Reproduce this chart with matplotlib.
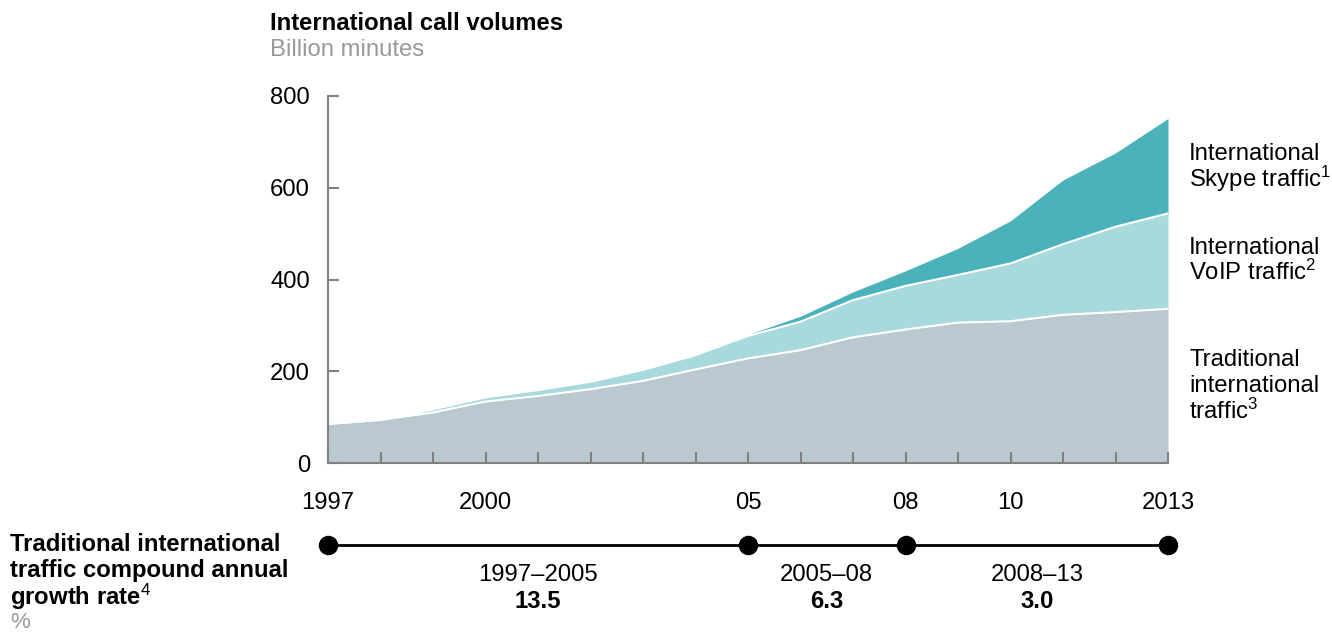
import numpy as np
import matplotlib
matplotlib.use('Agg')
import matplotlib.pyplot as plt
import matplotlib.transforms as mtransforms

plt.rcParams['font.family'] = ['Liberation Sans', 'DejaVu Sans']
plt.rcParams['mathtext.fontset'] = 'custom'
plt.rcParams['mathtext.rm'] = 'Liberation Sans'
plt.rcParams['mathtext.it'] = 'Liberation Sans:italic'
plt.rcParams['mathtext.bf'] = 'Liberation Sans:bold'

# data (billion minutes)
years = np.arange(1997, 2014)
traditional = [85, 94, 110, 134, 146, 161, 179, 204, 228, 246, 274, 291, 306, 309, 323, 329, 336]
voip = [0, 0, 7, 9, 13, 16, 24, 31, 49, 62, 81, 95, 104, 126, 154, 186, 208]
skype = [0, 0, 0, 0, 0, 0, 0, 0, 3, 12, 18, 33, 58, 93, 140, 161, 207]
year_labels = {1997: '1997', 2000: '2000', 2005: '05', 2008: '08', 2010: '10', 2013: '2013'}

cagr_points = [1997, 2005, 2008, 2013]
cagr_periods = ['1997–2005', '2005–08', '2008–13']
cagr_values = ['13.5', '6.3', '3.0']

c_trad = '#BAC8CF'
c_voip = '#A8D9DC'
c_skype = '#4BB2BC'
grey = '#808080'
fs = 17.2

W, H = 1332, 634
fig = plt.figure(figsize=(W / 100, H / 100), dpi=100)
ax = fig.add_axes([328 / W, 1 - 463 / H, 840 / W, 367 / H])

t = np.array(traditional, dtype=float)
v = t + np.array(voip)
s = v + np.array(skype)

ax.fill_between(years, 0, t, color=c_trad, lw=0)
ax.fill_between(years, t, v, color=c_voip, lw=0)
ax.fill_between(years, v, s, color=c_skype, lw=0)
ax.plot(years, t, color='white', lw=1.5)
ax.plot(years, v, color='white', lw=1.5)

ax.set_xlim(1997, 2013)
ax.set_ylim(0, 800)
ax.set_yticks([0, 200, 400, 600, 800])
ax.set_xticks(years)
ax.set_xticklabels([year_labels.get(y, '') for y in years])

for side in ['top', 'right']:
    ax.spines[side].set_visible(False)
for side in ['left', 'bottom']:
    ax.spines[side].set_color(grey)
    ax.spines[side].set_linewidth(1.5)
ax.tick_params(axis='both', direction='in', length=8, width=1.5, color=grey,
               labelsize=fs, labelcolor='black')
ax.tick_params(axis='y', pad=13)
ax.tick_params(axis='x', pad=21)

# title
fig.text(270 / W, 1 - 24 / H, 'International call volumes', fontsize=fs, fontweight='bold',
         ha='left', va='center')
fig.text(270 / W, 1 - 50 / H, 'Billion minutes', fontsize=fs, color='#999999',
         ha='left', va='center')

# right-side labels
right_labels = [
    (['International', r'Skype traffic$^{\mathrm{1}}$'], [151, 175]),
    (['International', r'VoIP traffic$^{\mathrm{2}}$'], [246, 270]),
    (['Traditional', 'international', r'traffic$^{\mathrm{3}}$'], [358, 384, 409]),
]
for lines, ys in right_labels:
    for txt, yp in zip(lines, ys):
        fig.text(1189 / W, 1 - yp / H, txt, fontsize=fs, ha='left', va='center_baseline')

# CAGR timeline
trans = mtransforms.blended_transform_factory(ax.transData, fig.transFigure)
ty = 1 - 545 / H
ax.plot([cagr_points[0], cagr_points[-1]], [ty, ty], color='black', lw=2,
        transform=trans, clip_on=False)
ax.plot(cagr_points, [ty] * len(cagr_points), 'o', color='black', ms=13,
        transform=trans, clip_on=False)
for i, (per, val) in enumerate(zip(cagr_periods, cagr_values)):
    xm = (cagr_points[i] + cagr_points[i + 1]) / 2
    ax.text(xm, 1 - 575 / H, per, fontsize=fs, ha='center', va='center', transform=trans)
    ax.text(xm, 1 - 602 / H, val, fontsize=fs, fontweight='bold', ha='center', va='center',
            transform=trans)

left_lines = ['Traditional international', 'traffic compound annual', r'growth rate$^{\mathrm{4}}$']
for txt, yp in zip(left_lines, [542, 568, 593]):
    fig.text(10 / W, 1 - yp / H, txt, fontsize=fs, fontweight='bold', ha='left',
             va='center_baseline')
fig.text(10 / W, 1 / H, '%', fontsize=16, color='#999999', ha='left', va='bottom')

fig.savefig('out.png', dpi=100)
